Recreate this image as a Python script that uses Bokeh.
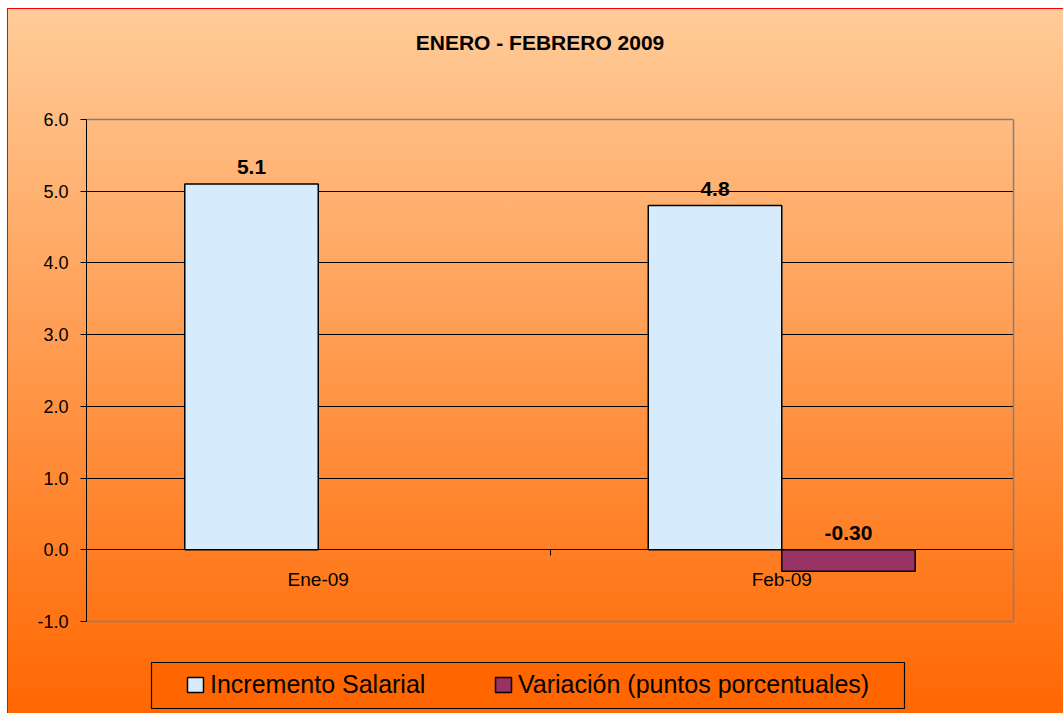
from bokeh.plotting import figure
from bokeh.models import (FactorRange, Range1d, LinearAxis, FixedTicker, Legend, Grid, Label,
                          LegendItem, ColumnDataSource, BoxAnnotation, NumeralTickFormatter)
from bokeh.transform import dodge
from bokeh.embed import file_html
from bokeh.resources import INLINE
from bokeh.core.properties import value

# ---------------- data ----------------
title_text = "ENERO - FEBRERO 2009"
categories = ["Ene-09", "Feb-09"]
incremento = [5.1, 4.8]
variacion = [None, -0.30]
series_names = ["Incremento Salarial", "Variación (puntos porcentuales)"]
y_ticks = [-1, 0, 1, 2, 3, 4, 5, 6]

FONT = "Liberation Sans"
W, H = 1063, 713
FRAME_LEFT, FRAME_RIGHT = 86, 1013
PLOT_TOP, PLOT_BOTTOM = 119, 621   # pixel rows of the highest / lowest tick
TITLE_Y = 42                       # pixel row of the title centre

# the frame spans the whole canvas height so title and legend can sit inside it
px_per_unit = (PLOT_BOTTOM - PLOT_TOP) / (y_ticks[-1] - y_ticks[0])
y_start = y_ticks[0] - (H - PLOT_BOTTOM) / px_per_unit
y_end = y_ticks[-1] + PLOT_TOP / px_per_unit

p = figure(width=W, height=H, title=None,
           x_range=FactorRange(*categories, range_padding=0),
           y_range=Range1d(y_start, y_end),
           output_backend="svg", toolbar_location=None,
           min_border_left=FRAME_LEFT, min_border_right=W - FRAME_RIGHT,
           min_border_top=0, min_border_bottom=0)

p.background_fill_color = None
p.border_fill_color = None
p.outline_line_color = None
p.styles = {"background": (
    "linear-gradient(#FF0000,#FF0000) 7px 8px / 1px 100% no-repeat, "
    "linear-gradient(#FF0000,#FF0000) 7px 8px / 100% 1px no-repeat, "
    "linear-gradient(180deg, #FFCC99 0%, #FF6600 100%) 8px 9px / 100% 100% no-repeat, "
    "#FFFFFF")}

# title
p.add_layout(Label(x=len(categories) / 2, y=y_end - TITLE_Y / px_per_unit, x_offset=-10,
                   text=title_text, text_align="center", text_baseline="middle",
                   text_font=FONT, text_font_size="21px", text_font_style="bold",
                   text_color="#000000"))

# y axis
p.yaxis.ticker = FixedTicker(ticks=y_ticks)
p.yaxis.bounds = (y_ticks[0], y_ticks[-1])
p.yaxis.formatter = NumeralTickFormatter(format="0.0")
p.yaxis.major_label_text_font = FONT
p.yaxis.major_label_text_font_size = "18px"
p.yaxis.major_label_text_color = "#000000"
p.yaxis.major_tick_out = 6
p.yaxis.major_tick_in = 0
p.yaxis.minor_tick_line_color = None
p.yaxis.axis_line_color = "#000000"
p.yaxis.major_tick_line_color = "#000000"
p.yaxis.major_label_standoff = 12

# right border of the plot area
rb = LinearAxis(ticker=FixedTicker(ticks=[]), bounds=(y_ticks[0], y_ticks[-1]),
                axis_line_color="#808080", axis_line_width=1.5,
                major_tick_line_color=None, minor_tick_line_color=None,
                major_label_text_font_size="0px")
p.add_layout(rb, "right")

# grid
p.xgrid.visible = False
p.ygrid.ticker = FixedTicker(ticks=y_ticks[1:-1])
p.ygrid.grid_line_color = "#000000"
p.ygrid.grid_line_width = 1
edge_grid = Grid(dimension=1, ticker=FixedTicker(ticks=[y_ticks[0], y_ticks[-1]]),
                 grid_line_color="#808080", grid_line_width=1.5)
p.add_layout(edge_grid)

# categorical x axis crossing at zero
xa = p.xaxis[0]
xa.fixed_location = 0
xa.major_tick_line_color = None
xa.axis_line_color = "#000000"
xa.major_label_text_font = FONT
xa.major_label_text_font_size = "19px"
xa.major_label_text_color = "#000000"
xa.major_label_standoff = 13

# tick marks between categories (synthetic coordinates of the factor range)
bound_ticks = list(range(len(categories) + 1))
ba = LinearAxis(ticker=FixedTicker(ticks=bound_ticks),
                major_label_overrides={t: "" for t in bound_ticks},
                axis_line_color=None, major_tick_out=6, major_tick_in=0,
                major_tick_line_color="#000000", minor_tick_line_color=None)
ba.fixed_location = 0
p.add_layout(ba, "below")

# bars
src1 = ColumnDataSource(dict(cat=categories, val=incremento,
                             lab=[f"{v:.1f}" for v in incremento],
                             ly=[max(v, 0) for v in incremento]))
var_cats = [c for c, v in zip(categories, variacion) if v is not None]
var_vals = [v for v in variacion if v is not None]
src2 = ColumnDataSource(dict(cat=var_cats, val=var_vals,
                             lab=[f"{v:.2f}" for v in var_vals],
                             ly=[max(v, 0) for v in var_vals]))

BW = 0.288
r1 = p.vbar(x=dodge("cat", -BW / 2, range=p.x_range), top="val", bottom=0, width=BW,
            fill_color="#D6ECFC", line_color="#000000", line_width=1.5, source=src1)
r2 = p.vbar(x=dodge("cat", BW / 2, range=p.x_range), top="val", bottom=0, width=BW,
            fill_color="#993366", line_color="#000000", line_width=1.5, source=src2)

for src, off in ((src1, -BW / 2), (src2, BW / 2)):
    p.text(x=dodge("cat", off, range=p.x_range), y="ly", text="lab", source=src,
           text_align="center", text_baseline="bottom", y_offset=-10,
           text_font=value(FONT), text_font_style="bold", text_font_size="21px",
           text_color="#000000")

# legend box
box = BoxAnnotation(left=151, right=904, top=662, bottom=708,
                    left_units="canvas", right_units="canvas",
                    top_units="canvas", bottom_units="canvas",
                    fill_color="#FF6600", fill_alpha=1,
                    line_color="#000000", line_alpha=1, line_width=1.2)
p.add_layout(box)

legend = Legend(items=[LegendItem(label=series_names[0], renderers=[r1]),
                       LegendItem(label=series_names[1], renderers=[r2])],
                orientation="horizontal", location=(99, 14.5),
                border_line_color=None, background_fill_alpha=0,
                padding=0, margin=0, spacing=23,
                glyph_width=20, glyph_height=19, label_standoff=5,
                label_width=260, label_height=28,
                label_text_font=FONT, label_text_font_size="25px",
                label_text_color="#000000")
p.add_layout(legend, "center")

open("out.html", "w").write(file_html(p, INLINE))
